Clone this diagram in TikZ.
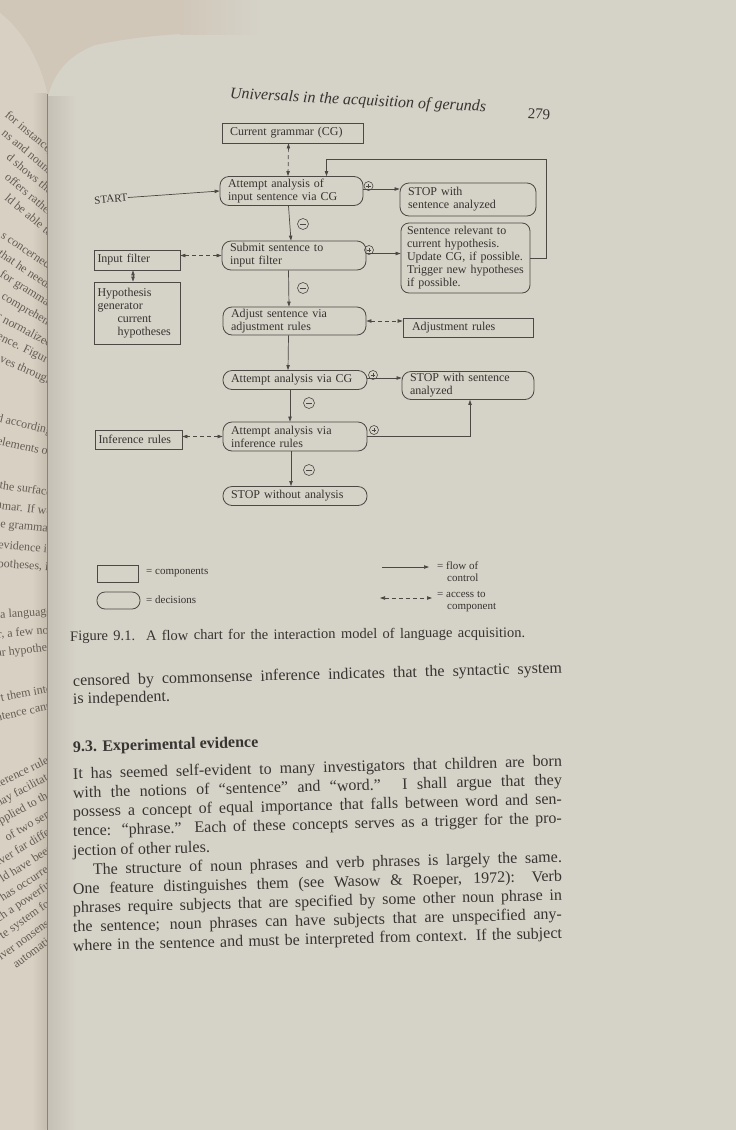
\documentclass[tikz,border=0pt]{standalone}
\usepackage{fontspec}
\setmainfont{Liberation Serif}
\usetikzlibrary{arrows.meta,calc}
\definecolor{page}{RGB}{213,210,200}
\definecolor{lpage}{RGB}{216,209,195}
\definecolor{bgc}{RGB}{208,199,185}
\definecolor{gutter}{RGB}{140,130,115}
\definecolor{ink}{RGB}{55,52,49}
\definecolor{linec}{RGB}{76,72,68}
\definecolor{fragc}{RGB}{100,92,84}
\newcommand\dfont{\fontsize{12}{13}\selectfont}
\newcommand\lgfont{\fontsize{11}{12}\selectfont}
\newcommand\bdfont{\fontsize{16}{19}\selectfont}
\newcommand\fgfont{\fontsize{12}{13}\selectfont}
\newcommand\bodyline[3]{\node[body, anchor=base west] (#1) at (73,#2) {\makebox[489pt][s]{#3}};}
\newcommand\lastline[3]{\node[body, anchor=base west] (#1) at (73,#2) {#3};}
\newcommand\frag[4]{\node[fragtext, rotate=#3] (#1) at (52,#2) {#4};}
\begin{document}
\begin{tikzpicture}[x=1pt,y=-1pt,
  >={Triangle[length=5pt,width=3.4pt]},
  comp/.style={draw=linec, line width=0.8pt, inner ysep=0pt, text=ink, font=\dfont, align=left},
  dec/.style={comp, rounded corners=9pt},
  flow/.style={draw=linec, line width=0.7pt, ->},
  link/.style={draw=linec, line width=0.7pt, <->},
  access/.style={draw=linec, line width=0.7pt, <->, dash pattern=on 4pt off 3pt},
  pm/.style={circle, draw=linec, line width=0.6pt, inner sep=0pt},
  plusm/.style={pm, minimum size=9pt, path picture={\draw[linec,line width=0.6pt]
     ([xshift=-2.4pt]path picture bounding box.center) -- ([xshift=2.4pt]path picture bounding box.center)
     ([yshift=-2.4pt]path picture bounding box.center) -- ([yshift=2.4pt]path picture bounding box.center);}},
  minusm/.style={pm, minimum size=11pt, path picture={\draw[linec,line width=0.7pt]
     ([xshift=-3pt]path picture bounding box.center) -- ([xshift=3pt]path picture bounding box.center);}},
  leg/.style={text=ink, font=\lgfont, inner sep=0pt, align=left},
  body/.style={text=ink, font=\bdfont, inner sep=0pt, rotate=1.5},
  fragtext/.style={text=fragc, font=\fgfont, inner sep=0pt, anchor=east}
]
\useasboundingbox (0,0) rectangle (736,1130);
% ---------- paper ----------
\fill[page] (0,0) rectangle (736,1130);
\fill[bgc] (0,0) -- (0,13) .. controls (22,30) and (40,60) .. (47,93) -- (48,96) .. controls (55,70) and (70,55) .. (95,45) .. controls (130,38) and (150,36) .. (180,34) -- (180,0) -- cycle;
\shade[left color=bgc, right color=page] (180,0) rectangle (260,34);
% left (facing) page
\fill[lpage] (0,13) .. controls (22,30) and (40,60) .. (47,93) -- (47,1130) -- (0,1130) -- cycle;
\shade[left color=lpage, right color=gutter!25!lpage] (32,93) rectangle (46.5,1130);
% gutter and page shadow
\shade[left color=gutter!22!page, right color=page] (48,96) rectangle (76,1130);
% ---------- facing page fragments ----------
\begin{scope}
\clip (0,13) .. controls (22,30) and (40,60) .. (47,93) -- (47,1130) -- (0,1130) -- cycle;
\frag{f1}{152}{-40}{for instance,}
\frag{f2}{172}{-40}{ns and nouns}
\frag{f3}{192}{-40}{d shows the}
\frag{f4}{213}{-40}{offers rather}
\frag{f5}{234}{-40}{ld be able to}
\frag{f6}{268}{-34}{s concerned,}
\frag{f7}{287}{-34}{that he needs}
\frag{f8}{306}{-32}{for grammar}
\frag{f9}{325}{-30}{comprehen-}
\frag{f10}{344}{-28}{r normalized}
\frag{f11}{363}{-26}{rence. Figure}
\frag{f12}{382}{-24}{oves through}
\frag{f13}{432}{-14}{ed according}
\frag{f14}{452}{-12}{elements or}
\frag{f15}{492}{-8}{es the surface}
\frag{f16}{511}{-7}{ammar. If we}
\frag{f17}{530}{-6}{the grammar}
\frag{f18}{549}{-5}{: evidence is}
\frag{f19}{568}{-4}{potheses, it}
\frag{f20}{612}{4}{or a language}
\frag{f21}{630}{5}{r, a few not}
\frag{f22}{648}{6}{lar hypothes}
\frag{f23}{688}{10}{vert them into}
\frag{f24}{706}{12}{ntence cann}
\frag{f25}{757}{26}{ference rules}
\frag{f26}{775}{28}{may facilitate}
\frag{f27}{793}{29}{applied to the}
\frag{f28}{811}{30}{of two sent}
\frag{f29}{829}{31}{eiver far differ}
\frag{f30}{847}{32}{ld have been}
\frag{f31}{865}{33}{has occurred}
\frag{f32}{883}{34}{ch a powerful}
\frag{f33}{901}{35}{te system for}
\frag{f34}{919}{36}{iver nonsense}
\frag{f35}{937}{37}{automatic}
\end{scope}
\draw[gutter, line width=1.3pt] (47.2,94) -- (47.2,1130);
% ---------- running head ----------
\node[text=ink, font=\fontsize{16}{18}\selectfont\itshape, inner sep=0pt, rotate=-3] (head) at (358,101) {Universals in the acquisition of gerunds};
\node[text=ink, font=\fontsize{15}{17}\selectfont, inner sep=0pt, rotate=-3] (pnum) at (539,114) {279};
% ---------- flow chart nodes ----------
\node[comp, text width=125pt, inner xsep=8pt, minimum height=20pt] (cg) at (292.5,133) {Current grammar (CG)};
\node[dec, text width=127pt, inner xsep=8pt, minimum height=29pt] (att1) at (291.5,191) {Attempt analysis of\\input sentence via CG};
\node[dec, text width=120pt, inner xsep=8pt, minimum height=33pt] (stop1) at (468,199.5) {STOP with\\sentence analyzed};
\node[comp, rounded corners=8pt, text width=117pt, inner xsep=6pt, minimum height=70pt] (rel) at (465.5,258) {Sentence relevant to\\current hypothesis.\\Update CG, if possible.\\Trigger new hypotheses\\if possible.};
\node[dec, text width=128pt, inner xsep=8pt, minimum height=29pt] (sub) at (294,255.5) {Submit sentence to\\input filter};
\node[comp, text width=79pt, inner xsep=3.5pt, minimum height=20pt] (inf) at (137,260) {Input filter};
\node[comp, text width=79pt, inner xsep=3.5pt, minimum height=62pt] (hyp) at (137,313) {Hypothesis\\generator\\\hspace*{20pt}current\\\hspace*{20pt}hypotheses};
\node[dec, text width=127pt, inner xsep=8pt, minimum height=28pt] (adj) at (294.5,321) {Adjust sentence via\\adjustment rules};
\node[comp, text width=112pt, inner xsep=9pt, minimum height=19pt] (adjr) at (468,327.5) {Adjustment rules};
\node[dec, text width=128pt, inner xsep=8pt, minimum height=19pt] (acg) at (295,380) {Attempt analysis via CG};
\node[dec, text width=116pt, inner xsep=8pt, minimum height=28pt] (stop2) at (468,385.5) {STOP with sentence\\analyzed};
\node[dec, text width=128pt, inner xsep=8pt, minimum height=29pt] (ainf) at (295,436.5) {Attempt analysis via\\inference rules};
\node[comp, text width=80pt, inner xsep=3.5pt, minimum height=19pt] (infr) at (138.5,439.5) {Inference rules};
\node[dec, text width=128pt, inner xsep=8pt, minimum height=19pt] (stopn) at (295,496) {STOP without analysis};
\node[text=ink, font=\lgfont, inner sep=0pt, rotate=5] (start) at (111,199) {START};
% ---------- markers ----------
\node[plusm] (p1) at (368.5,186) {};
\node[plusm] (p2) at (369,250) {};
\node[plusm] (p3) at (373,375) {};
\node[plusm] (p4) at (374,430) {};
\node[minusm] (m1) at (303,224) {};
\node[minusm] (m2) at (303,288) {};
\node[minusm] (m3) at (309,403) {};
\node[minusm] (m4) at (309,470) {};
% ---------- connectors ----------
\coordinate (loopc) at (546,159);
\draw[access] ([xshift=-4pt]cg.south) -- ([xshift=-3.5pt]att1.north);
\draw[flow] (start.east) -- (att1.west);
\draw[flow] ([yshift=2pt]att1.east) -- ([yshift=2pt]att1.east -| stop1.west);
\draw[flow] (rel.east) -| (loopc) -| ([xshift=35pt]att1.north);
\draw[flow] ([xshift=-3pt]att1.south) -- ([xshift=-3pt]sub.north);
\draw[flow] ([yshift=2pt]sub.east) -- ([yshift=2pt]sub.east -| rel.west);
\draw[access] (sub.west) -- (sub.west -| inf.east);
\draw[link] ([xshift=-4pt]inf.south) -- ([xshift=-4pt]hyp.north);
\draw[flow] ([xshift=-5.5pt]sub.south) -- ([xshift=-5.5pt]adj.north);
\draw[access] (adj.east) -- (adj.east -| adjr.west);
\draw[flow] ([xshift=-6pt]adj.south) -- ([xshift=-7pt]acg.north);
\draw[flow] ([yshift=2pt]acg.east) -- ([yshift=2pt]acg.east -| stop2.west);
\draw[flow] ([xshift=-5pt]acg.south) -- ([xshift=-5pt]ainf.north);
\draw[access] (ainf.west) -- (ainf.west -| infr.east);
\draw[flow] (ainf.east) -| ([xshift=2pt]stop2.south);
\draw[flow] ([xshift=-4pt]ainf.south) -- ([xshift=-4pt]stopn.north);
% ---------- legend ----------
\node[comp, minimum width=41pt, minimum height=17pt] (lgc) at (117.5,573.5) {};
\node[comp, rounded corners=8pt, minimum width=43pt, minimum height=17pt] (lgd) at (118.5,600.5) {};
\node[leg, anchor=west] (lgct) at (146,573) {= components};
\node[leg, anchor=west] (lgdt) at (146,600) {= decisions};
\coordinate (lf1) at (382,567);
\coordinate (lf2) at (429,567);
\draw[flow] (lf1) -- (lf2);
\node[leg, anchor=north west] (lft) at (437,562) {= flow of\\\hspace*{10pt}control};
\coordinate (la1) at (380,598);
\coordinate (la2) at (432,598);
\draw[access] (la1) -- (la2);
\node[leg, anchor=north west] (lat) at (437,591) {= access to\\\hspace*{10pt}component};
% ---------- caption ----------
\node[text=ink, font=\fontsize{14.5}{16}\selectfont, inner sep=0pt, anchor=base west, rotate=0.5] (cap) at (70,641)
  {\makebox[455pt][s]{Figure 9.1.\ \ A flow chart for the interaction model of language acquisition.}};
% ---------- body text ----------
\bodyline{b1}{686}{censored by commonsense inference indicates that the syntactic system}
\lastline{b2}{704}{is independent.}
\lastline{b3}{752}{\textbf{9.3. Experimental evidence}}
\bodyline{b4}{779}{It has seemed self-evident to many investigators that children are born}
\bodyline{b5}{798}{with the notions of ``sentence'' and ``word.'' I shall argue that they}
\bodyline{b6}{817}{possess a concept of equal importance that falls between word and sen-}
\bodyline{b7}{836}{tence: ``phrase.'' Each of these concepts serves as a trigger for the pro-}
\lastline{b8}{856}{jection of other rules.}
\bodyline{b9}{875}{\hspace*{20pt}The structure of noun phrases and verb phrases is largely the same.}
\bodyline{b10}{894}{One feature distinguishes them (see Wasow \& Roeper, 1972): Verb}
\bodyline{b11}{913}{phrases require subjects that are specified by some other noun phrase in}
\bodyline{b12}{932}{the sentence; noun phrases can have subjects that are unspecified any-}
\bodyline{b13}{951}{where in the sentence and must be interpreted from context. If the subject}
\end{tikzpicture}
\end{document}
